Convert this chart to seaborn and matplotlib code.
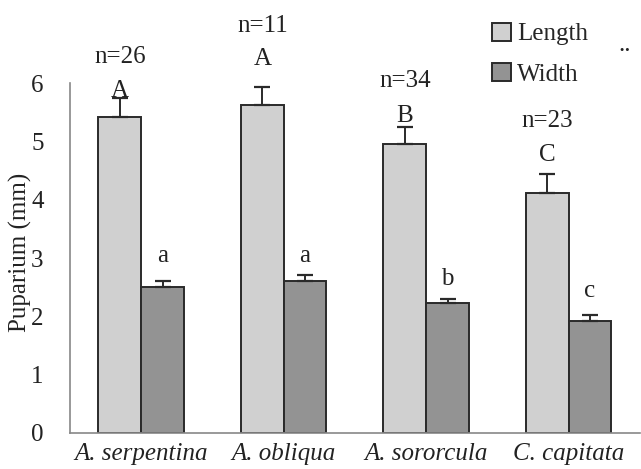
import matplotlib
matplotlib.use("Agg")
import matplotlib.pyplot as plt
import seaborn as sns
import pandas as pd

species = ["A. serpentina", "A. obliqua", "A. sororcula", "C. capitata"]
length_mean = [5.42, 5.63, 4.95, 4.11]
length_err = [0.32, 0.30, 0.30, 0.33]
width_mean = [2.50, 2.61, 2.23, 1.92]
width_err = [0.11, 0.10, 0.07, 0.10]
n_labels = ["n=26", "n=11", "n=34", "n=23"]
length_letters = ["A", "A", "B", "C"]
width_letters = ["a", "a", "b", "c"]

# label baselines (data units) as placed in the original figure
n_label_y = [6.34, 6.87, 5.93, 5.25]
length_letter_y = [5.76, 6.31, 5.33, 4.66]
width_letter_y = [2.93, 2.93, 2.54, 2.33]

sns.set_style("white")
plt.rcParams["font.family"] = ["Liberation Serif", "DejaVu Serif"]
FS = 18

df = pd.DataFrame({
    "species": species * 2,
    "measure": ["Length"] * 4 + ["Width"] * 4,
    "value": length_mean + width_mean,
})

fig = plt.figure(figsize=(6.41, 4.69), dpi=100)
ax = fig.add_axes([0.1092, 0.0768, 0.889, 0.746])
sns.barplot(data=df, x="species", y="value", hue="measure", order=species,
            hue_order=["Length", "Width"], palette=["#d0d0d0", "#939393"],
            errorbar=None, width=0.6, edgecolor="#2a2a2a", linewidth=1.4,
            saturation=1, ax=ax)

bars = ax.patches[:8]
errs = length_err + width_err
means = length_mean + width_mean
for i, p in enumerate(bars):
    xc = p.get_x() + p.get_width() / 2
    ax.errorbar(xc, means[i], yerr=[[0], [errs[i]]], fmt="none", ecolor="#2a2a2a",
                elinewidth=1.4, capsize=6, capthick=1.6, clip_on=False)
    if i < 4:
        ax.text(xc, length_letter_y[i], length_letters[i], ha="center", va="baseline",
                fontsize=FS, clip_on=False, color="#222222")
        ax.text(xc, n_label_y[i], n_labels[i], ha="center", va="baseline",
                fontsize=FS, clip_on=False, color="#222222")
    else:
        ax.text(xc, width_letter_y[i - 4], width_letters[i - 4], ha="center", va="baseline",
                fontsize=FS, clip_on=False, color="#222222")

ax.set_ylim(0, 6)
ax.set_xlim(-0.5, 3.5)
ax.set_yticks([0, 1, 2, 3, 4, 5, 6])
ax.tick_params(axis="y", length=0, labelsize=FS, pad=19, colors="#222222")
ax.set_xticks([-0.5, 0.5, 1.5, 2.5])
ax.set_xticklabels([])
ax.tick_params(axis="x", which="major", length=9, width=1.1, color="#888888")
ax.set_xticks(range(4), minor=True)
ax.set_xticklabels(species, minor=True, fontstyle="italic", fontsize=FS)
ax.tick_params(axis="x", which="minor", length=0, pad=7, labelcolor="#222222")
ax.set_xlabel("")
ax.set_ylabel("Puparium (mm)", fontsize=FS, color="#222222")
ax.yaxis.set_label_coords(-0.066, 0.517)

for s in ["top", "right"]:
    ax.spines[s].set_visible(False)
for s in ["left", "bottom"]:
    ax.spines[s].set_color("#888888")
    ax.spines[s].set_linewidth(1.2)

ax.legend_.remove()
handles, labels = ax.get_legend_handles_labels()
leg = fig.legend(handles, labels, loc="upper left", bbox_to_anchor=(0.768, 0.952),
                 frameon=False, fontsize=FS, handlelength=0.75, handleheight=0.75,
                 handletextpad=0.25, labelspacing=0.7, borderaxespad=0, borderpad=0)
for h in leg.legend_handles:
    h.set_edgecolor("#2a2a2a")
    h.set_linewidth(1.4)

fig.text(0.975, 0.905, "..", fontsize=FS, ha="center", va="center", color="#222222")

fig.savefig("out.png", dpi=100)
